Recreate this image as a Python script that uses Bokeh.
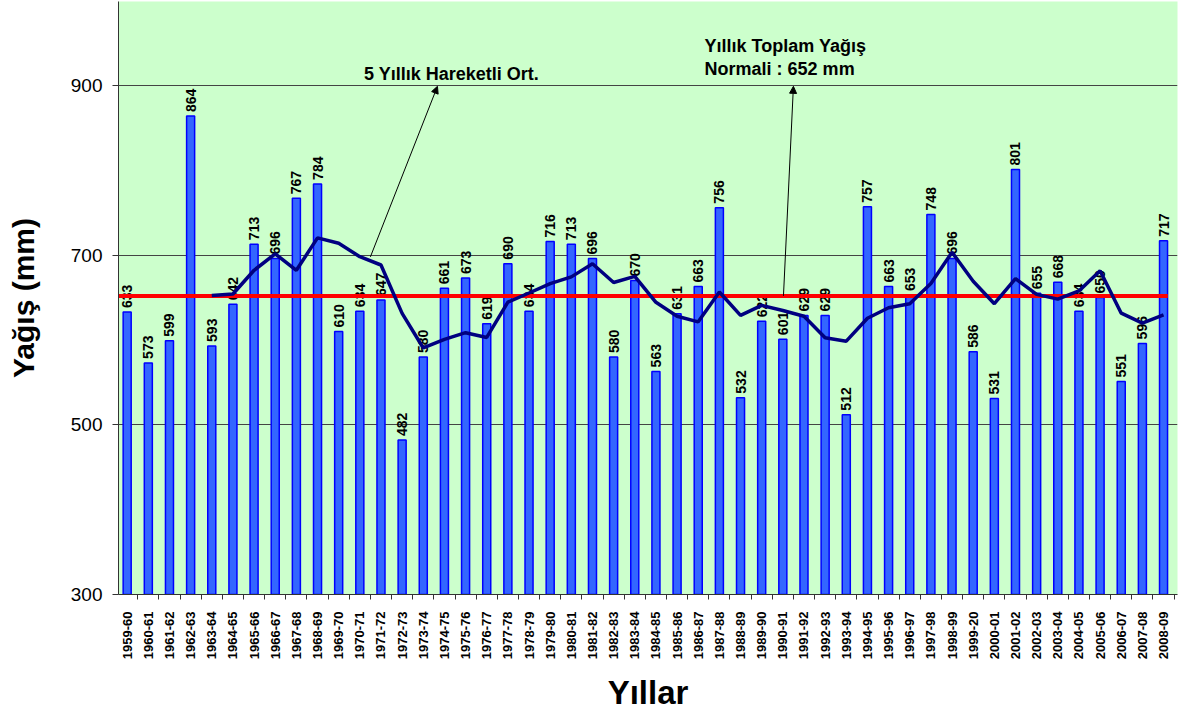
from math import pi
from bokeh.plotting import figure
from bokeh.models import ColumnDataSource, FixedTicker, Range1d, Arrow, NormalHead, Label
from bokeh.core.properties import value
from bokeh.embed import file_html
from bokeh.resources import INLINE

seasons = ["1959-60", "1960-61", "1961-62", "1962-63", "1963-64", "1964-65", "1965-66",
           "1966-67", "1967-68", "1968-69", "1969-70", "1970-71", "1971-72", "1972-73",
           "1973-74", "1974-75", "1975-76", "1976-77", "1977-78", "1978-79", "1979-80",
           "1980-81", "1981-82", "1982-83", "1983-84", "1984-85", "1985-86", "1986-87",
           "1987-88", "1988-89", "1989-90", "1990-91", "1991-92", "1992-93", "1993-94",
           "1994-95", "1995-96", "1996-97", "1997-98", "1998-99", "1999-20", "2000-01",
           "2001-02", "2002-03", "2003-04", "2004-05", "2005-06", "2006-07", "2007-08",
           "2008-09"]
rainfall = [633, 573, 599, 864, 593, 642, 713, 696, 767, 784, 610, 634, 647, 482, 580,
            661, 673, 619, 690, 634, 716, 713, 696, 580, 670, 563, 631, 663, 756, 532,
            622, 601, 629, 629, 512, 757, 663, 653, 748, 696, 586, 531, 801, 655, 668,
            634, 650, 551, 596, 717]
# 5-year moving average (starts at 1963-64)
moving_avg = [652.4, 654.2, 682.2, 701.6, 682.2, 720.4, 714.0, 698.2, 688.4, 631.4,
              590.6, 600.8, 608.6, 603.0, 644.6, 655.4, 666.4, 674.4, 689.8, 667.8,
              675.0, 644.4, 628.0, 621.4, 656.6, 629.0, 640.8, 634.8, 628.0, 602.6,
              598.6, 625.6, 638.0, 642.8, 666.6, 703.4, 669.2, 642.8, 672.4, 653.8,
              648.2, 657.8, 681.6, 631.6, 619.8, 629.6]
normal = 652
y_ticks = [300, 500, 700, 900]

FONT = "Liberation Sans"
idx = list(range(len(seasons)))
src = ColumnDataSource(dict(x=idx, top=rainfall, lab=[str(v) for v in rainfall]))
ma_src = ColumnDataSource(dict(x=idx[len(seasons) - len(moving_avg):], y=moving_avg))

p = figure(frame_width=1059, frame_height=593, output_backend="svg", toolbar_location=None,
           x_range=Range1d(-0.41, 49.66), y_range=Range1d(300, 999),
           min_border_left=118, min_border_top=1, min_border_right=5, min_border_bottom=114,
           background_fill_color="#CCFFCC", border_fill_color="white")
p.outline_line_color = None

p.vbar(x="x", top="top", bottom=300, width=0.38, source=src,
       fill_color="#3366FF", line_color="#0000FF", line_width=1.5)
p.text(x="x", y="top", text="lab", source=src, angle=pi / 2, y_offset=-4,
       text_align="left", text_baseline="middle", text_font=value(FONT),
       text_font_style="bold", text_font_size="14px", text_color="black")
p.segment(x0=[-0.41], x1=[len(seasons) - 0.8], y0=[normal], y1=[normal],
          line_color="#FF0000", line_width=4)
p.line(x="x", y="y", source=ma_src, line_color="#000080", line_width=3.5)

# annotations
p.add_layout(Arrow(end=NormalHead(size=7, fill_color="black", line_color="black"),
                   x_start=11.5, y_start=698, x_end=14.67, y_end=899,
                   line_color="black", line_width=1))
p.add_layout(Arrow(end=NormalHead(size=7, fill_color="black", line_color="black"),
                   x_start=31.03, y_start=652, x_end=31.5, y_end=899,
                   line_color="black", line_width=1))
for txt, xx, yy in [("5 Yıllık Hareketli Ort.", 11.2, 914),
                    ("Yıllık Toplam Yağış", 27.3, 947),
                    ("Normali : 652 mm", 27.3, 920)]:
    p.add_layout(Label(x=xx, y=yy, text=txt, text_font=FONT, text_font_style="bold",
                       text_font_size="18px", text_align="left", text_baseline="middle",
                       text_color="black"))

# axes
p.yaxis.ticker = FixedTicker(ticks=y_ticks)
p.yaxis.minor_tick_line_color = None
p.yaxis.major_tick_out = 6
p.yaxis.major_tick_in = 0
p.yaxis.major_label_text_font = FONT
p.yaxis.major_label_text_font_size = "19px"
p.yaxis.major_label_text_color = "black"
p.yaxis.major_label_standoff = 10
p.yaxis.axis_line_color = "#333333"
p.yaxis.major_tick_line_color = "#333333"
p.yaxis.axis_label = "Yağış (mm)"
p.yaxis.axis_label_text_font = FONT
p.yaxis.axis_label_text_font_style = "bold"
p.yaxis.axis_label_text_font_size = "30px"
p.yaxis.axis_label_text_color = "black"
p.yaxis.axis_label_standoff = 28

p.xaxis.ticker = FixedTicker(ticks=idx, minor_ticks=[i - 0.5 for i in range(len(seasons) + 1)])
p.xaxis.major_label_overrides = {i: s for i, s in enumerate(seasons)}
p.xaxis.major_label_orientation = pi / 2
p.xaxis.major_tick_out = 0
p.xaxis.major_tick_in = 0
p.xaxis.minor_tick_out = 5
p.xaxis.minor_tick_in = 0
p.xaxis.minor_tick_line_color = "#333333"
p.xaxis.axis_line_color = "#333333"
p.xaxis.major_label_text_font = FONT
p.xaxis.major_label_text_font_style = "bold"
p.xaxis.major_label_text_font_size = "13px"
p.xaxis.major_label_text_color = "black"
p.xaxis.major_label_standoff = 12
p.xaxis.axis_label = "Yıllar"
p.xaxis.axis_label_text_font = FONT
p.xaxis.axis_label_text_font_style = "bold"
p.xaxis.axis_label_text_font_size = "33px"
p.xaxis.axis_label_text_color = "black"
p.xaxis.axis_label_standoff = 12

p.xgrid.grid_line_color = None
p.ygrid.ticker = FixedTicker(ticks=y_ticks)
p.ygrid.grid_line_color = "#444444"
p.ygrid.grid_line_width = 1

open("out.html", "w").write(file_html(p, INLINE))
